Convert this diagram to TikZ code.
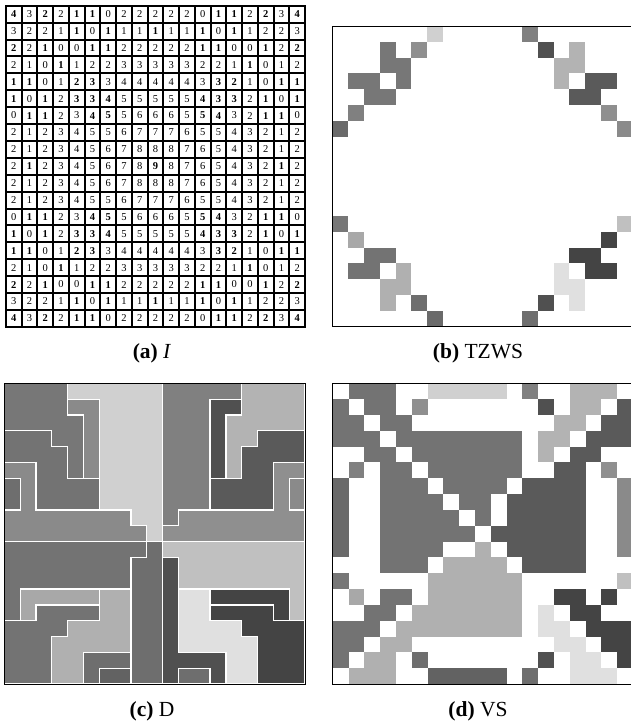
\documentclass[tikz,border=0pt]{standalone}
\usepackage{fontspec}
\setmainfont{Liberation Serif}
\definecolor{cW}{HTML}{FFFFFF}
\definecolor{cA}{HTML}{737373}
\definecolor{cL}{HTML}{D0D0D0}
\definecolor{cG}{HTML}{808080}
\definecolor{cB}{HTML}{B3B3B3}
\definecolor{cM}{HTML}{8F8F8F}
\definecolor{cD}{HTML}{505050}
\definecolor{cE}{HTML}{5A5A5A}
\definecolor{cP}{HTML}{6A6A6A}
\definecolor{cQ}{HTML}{8A8A8A}
\definecolor{cK}{HTML}{777777}
\definecolor{cH}{HTML}{A8A8A8}
\definecolor{cC}{HTML}{C0C0C0}
\definecolor{cX}{HTML}{444444}
\definecolor{cF}{HTML}{B0B0B0}
\definecolor{cJ}{HTML}{E0E0E0}
\definecolor{cN}{HTML}{6E6E6E}
\definecolor{cO}{HTML}{626262}
\tikzset{
  region/.style={draw=white, line width=1.2pt},
  frame/.style={draw=black, line width=1pt},
  gridline/.style={draw=black, line width=2pt, line cap=rect},
  capt/.style={font=\fontsize{21.5}{25}\selectfont, inner sep=0pt},
  num/.style={font=\fontsize{10.5}{12}\selectfont, inner sep=0pt},
  numb/.style={font=\fontsize{10.5}{12}\selectfont\bfseries, inner sep=0pt},
}
\begin{document}
\begin{tikzpicture}
\useasboundingbox (0pt,0pt) rectangle (631pt,-726pt);
\fill[white] (0pt,0pt) rectangle (631pt,-726pt);

% ---------- (a) I ----------
\begin{scope}[shift={(6pt,-5.7pt)}, x=15.74pt, y=-16.9pt]
\foreach \row [count=\r from 0] in {
 {14,3,12,2,11,11,0,2,2,2,2,2,0,11,11,2,12,3,14},
 {3,2,2,1,11,0,11,1,1,11,1,1,11,0,11,1,2,2,3},
 {12,2,11,0,0,11,11,2,2,2,2,2,11,11,0,0,11,2,12},
 {2,1,0,11,1,2,2,3,3,3,3,3,2,2,1,11,0,1,2},
 {11,11,0,1,12,13,3,4,4,4,4,4,3,13,12,1,0,11,11},
 {11,0,11,2,13,13,14,5,5,5,5,5,14,13,13,2,11,0,11},
 {0,11,11,2,3,14,15,5,6,6,6,5,15,14,3,2,11,11,0},
 {2,1,2,3,4,5,5,6,7,7,7,6,5,5,4,3,2,1,2},
 {2,1,2,3,4,5,6,7,8,8,8,7,6,5,4,3,2,1,2},
 {2,11,2,3,4,5,6,7,8,19,8,7,6,5,4,3,2,11,2},
 {2,1,2,3,4,5,6,7,8,8,8,7,6,5,4,3,2,1,2},
 {2,1,2,3,4,5,5,6,7,7,7,6,5,5,4,3,2,1,2},
 {0,11,11,2,3,14,15,5,6,6,6,5,15,14,3,2,11,11,0},
 {11,0,11,2,13,13,14,5,5,5,5,5,14,13,13,2,11,0,11},
 {11,11,0,1,12,13,3,4,4,4,4,4,3,13,12,1,0,11,11},
 {2,1,0,11,1,2,2,3,3,3,3,3,2,2,1,11,0,1,2},
 {12,2,11,0,0,11,11,2,2,2,2,2,11,11,0,0,11,2,12},
 {3,2,2,1,11,0,11,1,1,11,1,1,11,0,11,1,2,2,3},
 {14,3,12,2,11,11,0,2,2,2,2,2,0,11,11,2,12,3,14}} {
  \foreach \v [count=\c from 0] in \row {
    \ifnum\v>9
      \pgfmathtruncatemacro\w{\v-10}
      \node[numb] (a\r-\c) at (\c+0.5,\r+0.5) {\w};
    \else
      \node[num] (a\r-\c) at (\c+0.5,\r+0.5) {\v};
    \fi
  }
}
\foreach \i in {0,...,19} {
  \draw[gridline] (\i,0) -- (\i,19);
  \draw[gridline] (0,\i) -- (19,\i);
}
\end{scope}
\node[capt] (capa) at (152pt,-353pt) {\textbf{(a)} \textit{I}};

% ---------- (b) TZWS ----------
\begin{scope}[shift={(332.3pt,-26pt)}, x=15.8pt, y=-15.83pt]
\foreach \c/\r/\k in {6/0/L,12/0/G,
 3/1/K,5/1/M,13/1/D,15/1/B,
 3/2/K,4/2/K,14/2/B,15/2/B,
 1/3/K,2/3/K,4/3/K,14/3/B,16/3/E,17/3/E,
 2/4/K,3/4/K,15/4/E,16/4/E,
 1/5/G,17/5/M,
 0/6/P,18/6/Q,
 0/12/K,18/12/C,
 1/13/H,17/13/X,
 2/14/A,3/14/A,15/14/X,16/14/X,
 1/15/A,2/15/A,4/15/F,14/15/J,16/15/X,17/15/X,
 3/16/F,4/16/F,14/16/J,15/16/J,
 3/17/F,5/17/N,13/17/D,15/17/J,
 6/18/P,12/18/N} {
  \fill[c\k] (\c,\r) rectangle ++(1,1);
}
\draw[frame] (0,0) rectangle (19,19);
\end{scope}
\node[capt] (capb) at (478pt,-353pt) {\textbf{(b)} TZWS};

% ---------- (c) D ----------
\begin{scope}[shift={(4.3pt,-383.3pt)}, x=15.83pt, y=-15.83pt]
% top-left
\filldraw[region, fill=cK] (0,0) -- (4,0) -- (4,2) -- (5,2) -- (5,6) -- (4,6) -- (4,4) -- (3,4) -- (3,3) -- (0,3) -- cycle;
\filldraw[region, fill=cQ] (4,1) -- (6,1) -- (6,6) -- (5,6) -- (5,2) -- (4,2) -- cycle;
\filldraw[region, fill=cL] (4,0) -- (10,0) -- (10,10) -- (9,10) -- (9,9) -- (8,9) -- (8,8) -- (6,8) -- (6,1) -- (4,1) -- cycle;
\filldraw[region, fill=cA] (0,3) -- (3,3) -- (3,4) -- (4,4) -- (4,6) -- (6,6) -- (6,8) -- (2,8) -- (2,5) -- (0,5) -- cycle;
\filldraw[region, fill=cQ] (0,5) -- (2,5) -- (2,8) -- (8,8) -- (8,9) -- (9,9) -- (9,10) -- (0,10) -- (0,8) -- (1,8) -- (1,6) -- (0,6) -- cycle;
\filldraw[region, fill=cN] (0,6) -- (1,6) -- (1,8) -- (0,8) -- cycle;
% top-right
\filldraw[region, fill=cG] (10,0) -- (15,0) -- (15,1) -- (13,1) -- (13,8) -- (11,8) -- (11,9) -- (10,9) -- cycle;
\filldraw[region, fill=cB] (19,0) -- (15,0) -- (15,2) -- (14,2) -- (14,6) -- (15,6) -- (15,4) -- (16,4) -- (16,3) -- (19,3) -- cycle;
\filldraw[region, fill=cD] (15,1) -- (13,1) -- (13,6) -- (14,6) -- (14,2) -- (15,2) -- cycle;
\filldraw[region, fill=cE] (19,3) -- (16,3) -- (16,4) -- (15,4) -- (15,6) -- (13,6) -- (13,8) -- (17,8) -- (17,5) -- (19,5) -- cycle;
\filldraw[region, fill=cM] (19,5) -- (17,5) -- (17,8) -- (11,8) -- (11,9) -- (10,9) -- (10,10) -- (19,10) -- (19,8) -- (18,8) -- (18,6) -- (19,6) -- cycle;
\filldraw[region, fill=cQ] (18,6) -- (19,6) -- (19,8) -- (18,8) -- cycle;
% bottom-left
\filldraw[region, fill=cA] (0,10) -- (9,10) -- (9,11) -- (8,11) -- (8,13) -- (1,13) -- (1,15) -- (0,15) -- cycle;
\filldraw[region, fill=cH] (1,13) -- (6,13) -- (6,14) -- (2,14) -- (2,15) -- (1,15) -- cycle;
\filldraw[region, fill=cF] (6,13) -- (8,13) -- (8,17) -- (5,17) -- (5,19) -- (3,19) -- (3,16) -- (4,16) -- (4,15) -- (6,15) -- cycle;
\filldraw[region, fill=cA] (2,14) -- (6,14) -- (6,15) -- (4,15) -- (4,16) -- (3,16) -- (3,19) -- (0,19) -- (0,15) -- (2,15) -- cycle;
\filldraw[region, fill=cN] (5,17) -- (8,17) -- (8,18) -- (6,18) -- (6,19) -- (5,19) -- cycle;
\filldraw[region, fill=cO] (6,18) -- (8,18) -- (8,19) -- (6,19) -- cycle;
\filldraw[region, fill=cN] (9,10) -- (10,10) -- (10,19) -- (8,19) -- (8,11) -- (9,11) -- cycle;
% bottom-right
\filldraw[region, fill=cC] (10,10) -- (19,10) -- (19,15) -- (18,15) -- (18,13) -- (11,13) -- (11,11) -- (10,11) -- cycle;
\filldraw[region, fill=cD] (10,11) -- (11,11) -- (11,17) -- (14,17) -- (14,19) -- (13,19) -- (13,18) -- (11,18) -- (11,19) -- (10,19) -- cycle;
\filldraw[region, fill=cN] (11,18) -- (13,18) -- (13,19) -- (11,19) -- cycle;
\filldraw[region, fill=cJ] (11,13) -- (13,13) -- (13,15) -- (15,15) -- (15,16) -- (16,16) -- (16,19) -- (14,19) -- (14,17) -- (11,17) -- cycle;
\filldraw[region, fill=cX] (13,13) -- (18,13) -- (18,15) -- (17,15) -- (17,14) -- (13,14) -- cycle;
\filldraw[region, fill=cX] (13,14) -- (17,14) -- (17,15) -- (19,15) -- (19,19) -- (16,19) -- (16,16) -- (15,16) -- (15,15) -- (13,15) -- cycle;
\draw[frame] (0,0) rectangle (19,19);
\end{scope}
\node[capt] (capc) at (152pt,-711pt) {\textbf{(c)} D};

% ---------- (d) VS ----------
\begin{scope}[shift={(332.7pt,-383.3pt)}, x=15.8pt, y=-15.83pt]
\foreach \row [count=\r from 0] in {
 {W,A,A,A,W,W,L,L,L,L,L,W,G,W,W,B,B,B,W},
 {A,W,A,A,W,M,W,W,W,W,W,W,W,D,W,B,B,W,E},
 {A,A,W,A,A,W,W,W,W,W,W,W,W,W,B,B,W,E,E},
 {A,A,A,W,A,A,A,A,A,A,A,A,W,B,B,W,E,E,E},
 {W,W,A,A,W,A,A,A,A,A,A,A,W,B,W,E,E,W,W},
 {W,G,W,A,A,W,A,A,A,A,A,A,W,W,E,E,W,M,W},
 {P,W,W,A,A,A,W,A,A,A,A,W,E,E,E,E,W,W,Q},
 {P,W,W,A,A,A,A,W,A,A,W,E,E,E,E,E,W,W,Q},
 {P,W,W,A,A,A,A,A,W,A,W,E,E,E,E,E,W,W,Q},
 {P,W,W,A,A,A,A,A,A,W,E,E,E,E,E,E,W,W,Q},
 {P,W,W,A,A,A,A,W,W,F,W,E,E,E,E,E,W,W,Q},
 {W,W,W,A,A,A,W,F,F,F,F,W,E,E,E,E,W,W,W},
 {K,W,W,W,W,W,F,F,F,F,F,F,W,W,W,W,W,W,C},
 {W,H,W,A,A,W,F,F,F,F,F,F,W,W,X,X,W,X,W},
 {W,W,A,A,W,F,F,F,F,F,F,F,W,J,W,X,X,W,W},
 {A,A,A,W,F,F,F,F,F,F,F,F,W,J,J,W,X,X,X},
 {A,A,W,F,F,W,W,W,W,W,W,W,W,W,J,J,W,X,X},
 {A,W,F,F,W,N,W,W,W,W,W,W,W,D,W,J,J,W,X},
 {W,F,F,F,W,W,O,O,O,O,O,W,N,W,W,J,J,J,W}} {
  \foreach \k [count=\c from 0] in \row {
    \fill[c\k] (\c,\r) rectangle ++(1,1);
  }
}
\draw[frame] (0,0) rectangle (19,19);
\end{scope}
\node[capt] (capd) at (478pt,-711pt) {\textbf{(d)} VS};
\end{tikzpicture}
\end{document}
